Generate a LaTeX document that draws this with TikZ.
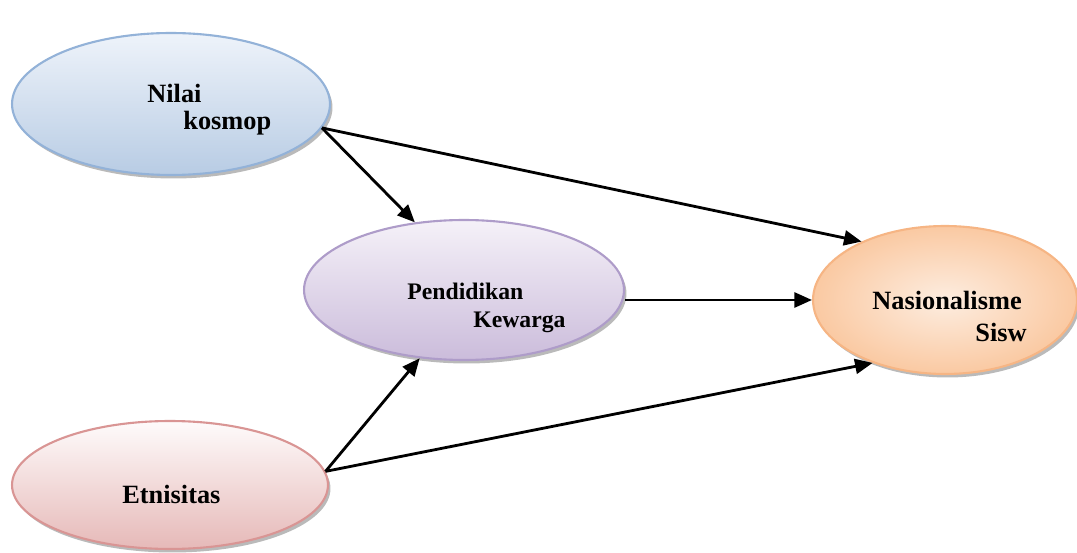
\documentclass[tikz,border=0pt]{standalone}
\usepackage{fontspec}
\setmainfont{Liberation Serif}
\usetikzlibrary{shapes.geometric,shadows,arrows.meta}
\definecolor{azulA}{HTML}{EEF3FA}
\definecolor{azulB}{HTML}{B8CCE4}
\definecolor{azulL}{HTML}{93B2D8}
\definecolor{lilaA}{HTML}{F5F1F8}
\definecolor{lilaB}{HTML}{CBBCDB}
\definecolor{lilaL}{HTML}{AE9CC9}
\definecolor{naranjaA}{HTML}{FDEDE0}
\definecolor{naranjaB}{HTML}{FAC9A2}
\definecolor{naranjaL}{HTML}{F6B584}
\definecolor{rosaA}{HTML}{FEFBFB}
\definecolor{rosaB}{HTML}{E6B9B8}
\definecolor{rosaL}{HTML}{D99594}
\tikzstyle{globo}=[ellipse,draw,line width=1.2pt,inner sep=0pt,
    drop shadow={shadow xshift=0.05cm,shadow yshift=-0.07cm,fill=black!45,opacity=0.6}]
\tikzstyle{rotulo}=[anchor=base west,inner sep=0pt,font=\fontsize{15}{18}\selectfont\bfseries]
\tikzstyle{flecha}=[line width=1.6pt,-{Triangle[length=10pt,width=8.5pt]}]

\begin{document}
\begin{tikzpicture}[x=0.02cm,y=-0.02cm]
    \useasboundingbox (0,0) rectangle (1077,553);
    \node [globo,draw=azulL,top color=azulA,bottom color=azulB,
        minimum width=6.36cm,minimum height=2.84cm] (nilai) at (171,104) {};
    \node [globo,draw=lilaL,top color=lilaA,bottom color=lilaB,
        minimum width=6.4cm,minimum height=2.8cm] (pend) at (464,290) {};
    \node [globo,draw=naranjaL,inner color=naranjaA,outer color=naranjaB,
        minimum width=5.28cm,minimum height=2.96cm] (nas) at (945,300) {};
    \node [globo,draw=rosaL,top color=rosaA,bottom color=rosaB,
        minimum width=6.32cm,minimum height=2.56cm] (etn) at (170,485) {};
    \node [rotulo] (nilai1) at (147,103) {Nilai};
    \node [rotulo] (nilai2) at (183,130) {kosmop};
    \node [rotulo,font=\fontsize{13.5}{16}\selectfont\bfseries] (pend1) at (407,300) {Pendidikan};
    \node [rotulo,font=\fontsize{13.5}{16}\selectfont\bfseries] (pend2) at (473,328) {Kewarga};
    \node [rotulo] (nas1) at (872,310) {Nasionalisme};
    \node [rotulo] (nas2) at (975,342) {Sisw};
    \node [rotulo] (etn1) at (122,503) {Etnisitas};
    \draw [flecha] (nilai.-9) -- (pend.126);
    \draw [flecha] (nilai.-9) -- (nas.145);
    \draw [flecha] (pend.east |- nas.west) -- (nas.west);
    \draw [flecha] (etn.5) -- (pend.-123);
    \draw [flecha] (etn.5) -- (nas.-139);
\end{tikzpicture}
\end{document}
